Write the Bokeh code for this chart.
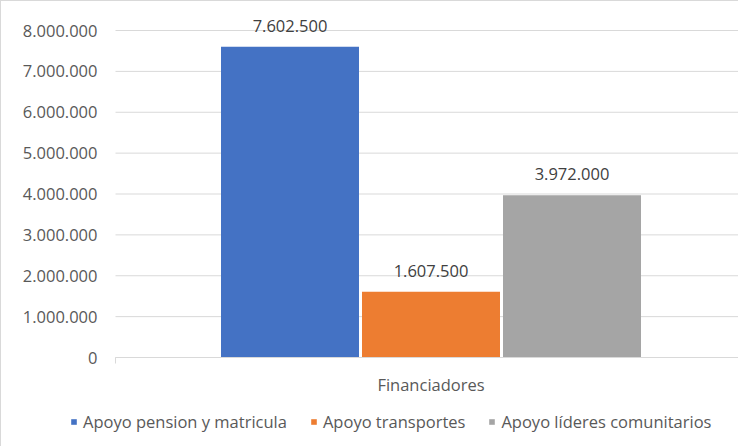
from bokeh.plotting import figure
from bokeh.models import (ColumnDataSource, Range1d, FixedTicker, LinearAxis,
                          Legend, LegendItem)
from bokeh.core.properties import value
from bokeh.embed import file_html
from bokeh.resources import INLINE

categories = ["Financiadores"]
series_names = ["Apoyo pension y matricula", "Apoyo transportes", "Apoyo líderes comunitarios"]
series_values = [7602500, 1607500, 3972000]
series_colors = ["#4472C4", "#ED7D31", "#A5A5A5"]
y_ticks = [0, 1000000, 2000000, 3000000, 4000000, 5000000, 6000000, 7000000, 8000000]
y_tick_labels = ["0", "1.000.000", "2.000.000", "3.000.000", "4.000.000",
                 "5.000.000", "6.000.000", "7.000.000", "8.000.000"]

FONT = "Open Sans"
FS = "16.5px"

# ---- geometry (pixels) ----
W, H = 738, 446          # plus 1px left/top border
PX_UNIT = 631            # pixels per category band
CAT_PX = 430.5           # centre of category band
ZERO_PX, TOP_PX = 357, 30
y_max = y_ticks[-1]
py = (ZERO_PX - TOP_PX) / y_max
x_start = (1 - CAT_PX) / PX_UNIT
x_end = (1 + W - CAT_PX) / PX_UNIT
y_start = -(1 + H - ZERO_PX) / py
y_end = (ZERO_PX - 1) / py

p = figure(x_range=Range1d(x_start, x_end), y_range=Range1d(y_start, y_end),
           width=W, height=H, output_backend="svg", toolbar_location=None,
           x_axis_location=None, y_axis_location=None,
           min_border_left=0, min_border_right=0, min_border_top=0, min_border_bottom=0)
p.styles = {"border-left": "1px solid #d9d9d9", "border-top": "1px solid #d9d9d9"}
p.outline_line_color = None
p.background_fill_color = "white"
p.xgrid.visible = False
p.ygrid.visible = False

# horizontal gridlines across the category band
p.segment(x0=[-0.5] * len(y_ticks), x1=[0.5] * len(y_ticks), y0=y_ticks, y1=y_ticks,
          line_color="#d9d9d9", line_width=1)

offsets = [-141 / PX_UNIT, 0.0, 141 / PX_UNIT]
bar_w = 138 / PX_UNIT
items = []
for name, v, c, off in zip(series_names, series_values, series_colors, offsets):
    xs = [i + off for i in range(len(categories))]
    src = ColumnDataSource(dict(x=xs, value=[v], label=[f"{v:,}".replace(",", ".")]))
    r = p.vbar(x="x", top="value", width=bar_w, source=src, fill_color=c, line_color=None)
    p.text(x="x", y="value", text="label", source=src,
           text_align="center", text_baseline="middle", y_offset=-21,
           text_font=value(FONT), text_font_size=FS, text_color="#404040")
    items.append(LegendItem(label=name, renderers=[r]))

legend = Legend(items=items, orientation="horizontal", location=(69, 14),
                glyph_width=7, glyph_height=7, label_standoff=6, spacing=23,
                padding=0, margin=0, border_line_color=None, background_fill_alpha=0,
                label_text_font=FONT, label_text_font_size=FS, label_text_color="#595959")
p.add_layout(legend, "center")

yaxis = LinearAxis(fixed_location=-0.5, bounds=(0, y_max),
                   ticker=FixedTicker(ticks=y_ticks),
                   major_label_overrides={t: l for t, l in zip(y_ticks, y_tick_labels)},
                   axis_line_color=None, major_tick_line_color=None,
                   minor_tick_line_color=None, major_tick_in=0, major_tick_out=0,
                   major_label_standoff=18, major_label_text_font=FONT,
                   major_label_text_font_size=FS, major_label_text_color="#595959")
p.add_layout(yaxis, "left")

cat_idx = list(range(len(categories)))
xaxis = LinearAxis(fixed_location=0, bounds=(-0.5, 0.5),
                   ticker=FixedTicker(ticks=cat_idx, minor_ticks=[-0.5]),
                   major_label_overrides={i: c for i, c in zip(cat_idx, categories)},
                   axis_line_color="#d9d9d9", axis_line_width=1,
                   major_tick_line_color=None, major_tick_in=0, major_tick_out=0,
                   minor_tick_line_color="#d9d9d9", minor_tick_in=0, minor_tick_out=6,
                   major_label_standoff=9, major_label_text_font=FONT,
                   major_label_text_font_size=FS, major_label_text_color="#595959")
p.add_layout(xaxis, "below")

open("out.html", "w").write(file_html(p, INLINE))
